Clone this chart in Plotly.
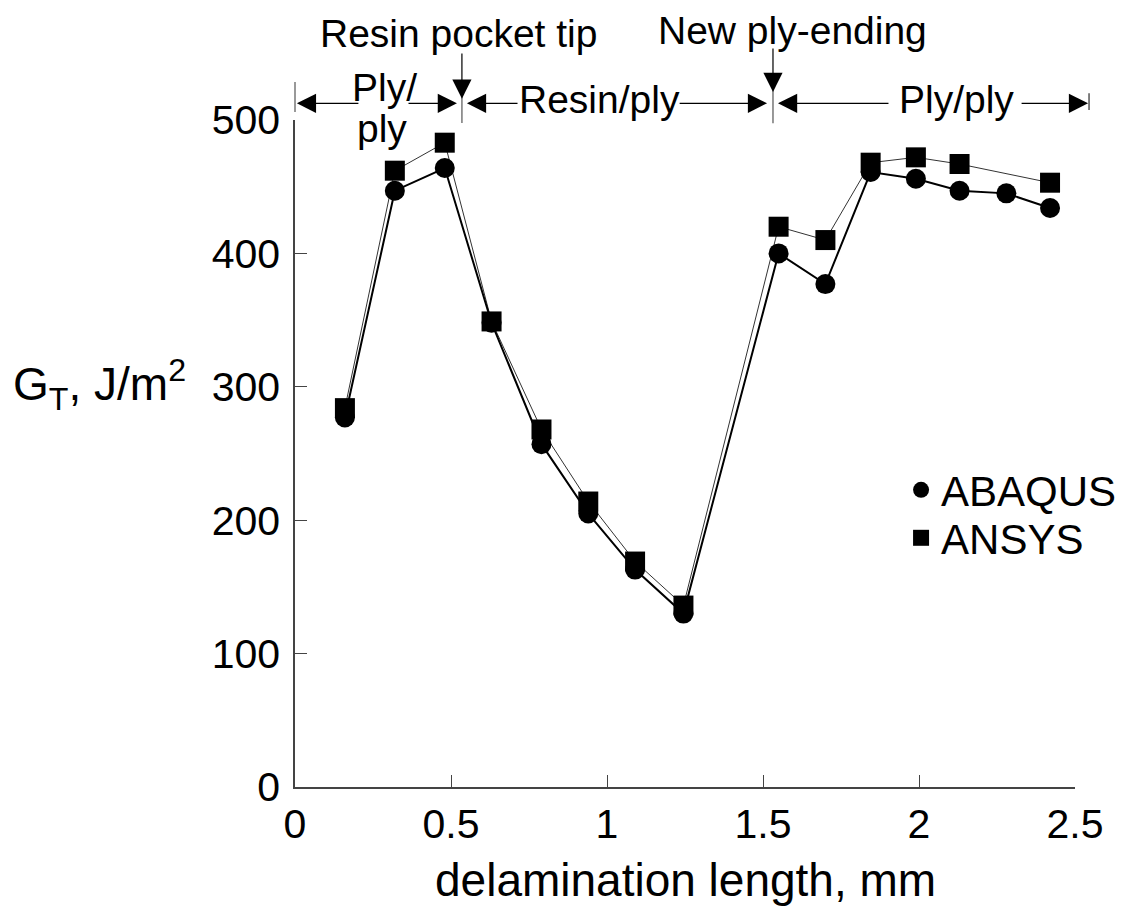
import plotly.graph_objects as go

# ---- data ----
x_abaqus = [0.16, 0.32, 0.48, 0.63, 0.79, 0.94, 1.09, 1.245, 1.55, 1.70, 1.845, 1.99, 2.13, 2.28, 2.42]
y_abaqus = [277, 447, 464, 348, 257, 205, 163, 130, 400, 377, 461, 456, 447, 445, 434]
x_ansys = [0.16, 0.32, 0.48, 0.63, 0.79, 0.94, 1.09, 1.245, 1.55, 1.70, 1.845, 1.99, 2.13, 2.42]
y_ansys = [284, 462, 483, 349, 268, 214, 169, 136, 420, 410, 468, 472, 467, 453]

x_ticks = [0, 0.5, 1, 1.5, 2, 2.5]
x_ticktext = ["0", "0.5", "1", "1.5", "2", "2.5"]
y_ticks = [0, 100, 200, 300, 400, 500]
y_ticktext = ["0", "100", "200", "300", "400", "500"]

# region boundaries along the delamination (mm)
region_start = 0.0
resin_tip_x = 0.535
new_ply_x = 1.532
region_end = 2.545
region_labels = ["Ply/", "ply", "Resin/ply", "Ply/ply"]
marker_labels = ["Resin pocket tip", "New ply-ending"]

X_MAX = 2.5
PLOT_W, PLOT_H = 780, 667   # plot area size in px


def px(mm):
    """mm -> paper x"""
    return mm / X_MAX


def py(v):
    """G value (J/m^2, may exceed 500) -> paper y"""
    return v / 500.0


FONT = "Liberation Sans, Arial, sans-serif"

fig = go.Figure()

fig.add_trace(go.Scatter(x=x_ansys, y=y_ansys, mode="lines",
                         line=dict(color="#333333", width=1), showlegend=False, hoverinfo="skip"))
fig.add_trace(go.Scatter(x=x_abaqus, y=y_abaqus, mode="lines",
                         line=dict(color="black", width=2), showlegend=False, hoverinfo="skip"))
fig.add_trace(go.Scatter(x=x_abaqus, y=y_abaqus, mode="markers", name="ABAQUS",
                         marker=dict(symbol="circle", size=20, color="black"), legend="legend"))
fig.add_trace(go.Scatter(x=x_ansys, y=y_ansys, mode="markers", name="ANSYS",
                         marker=dict(symbol="square", size=20, color="black"), legend="legend2"))

ARROW = dict(text="", showarrow=True, arrowhead=2, arrowsize=3.2, arrowwidth=1.2,
             arrowcolor="black", standoff=0, startstandoff=0)

annotations = []
arr_v = 512.5  # level of the horizontal region arrows (J/m^2 scale, above the axis)
arrows = [  # (head mm, tail mm)
    (region_start + 0.006, 0.208),
    (resin_tip_x - 0.016, 0.359),
    (resin_tip_x + 0.016, 0.718),
    (new_ply_x - 0.019, 1.228),
    (new_ply_x + 0.016, 1.907),
    (region_end - 0.003, 2.324),
]
for hx, tx in arrows:
    annotations.append(dict(x=px(hx), y=py(arr_v), xref="paper", yref="paper",
                            ax=(tx - hx) / X_MAX * PLOT_W, ay=0, axref="pixel", ayref="pixel", **ARROW))
# vertical arrows
for vx, tail_v, head_v in [(resin_tip_x, 551, 516), (new_ply_x, 554.7, 521)]:
    annotations.append(dict(x=px(vx), y=py(head_v), xref="paper", yref="paper",
                            ax=0, ay=-(tail_v - head_v) / 500 * PLOT_H, axref="pixel", ayref="pixel",
                            **ARROW))

label_pos = [  # (x mm, level)
    (0.288, 524), (0.279, 494), (0.976, 515), (2.12, 515),
]
for t, (lx, lv) in zip(region_labels, label_pos):
    annotations.append(dict(x=px(lx), y=py(lv), xref="paper", yref="paper", text=t, showarrow=False,
                            xanchor="center", yanchor="middle",
                            font=dict(family=FONT, size=39, color="black")))
for t, (lx, lv) in zip(marker_labels, [(0.523, 565), (1.596, 567)]):
    annotations.append(dict(x=px(lx), y=py(lv), xref="paper", yref="paper", text=t, showarrow=False,
                            xanchor="center", yanchor="middle",
                            font=dict(family=FONT, size=39, color="black")))

annotations.append(dict(x=-0.364, y=0.604, xref="paper", yref="paper", xanchor="left", yanchor="middle",
                        text="G<sub>T</sub>, J/m<sup>2</sup>", showarrow=False,
                        font=dict(family=FONT, size=46, color="black")))
annotations.append(dict(x=0.5, y=-0.139, xref="paper", yref="paper", xanchor="center", yanchor="middle",
                        text="delamination length, mm", showarrow=False,
                        font=dict(family=FONT, size=46, color="black")))

shapes = []
for sx, v0, v1, col in [(resin_tip_x, 497.8, 524, "#777777"), (new_ply_x, 497.5, 524, "#777777"),
                        (region_start, 506, 528.5, "#777777"), (region_end, 507.5, 520, "#555555")]:
    shapes.append(dict(type="line", xref="paper", yref="paper", x0=px(sx), x1=px(sx), y0=py(v0), y1=py(v1),
                       line=dict(color=col, width=1.5)))

fig.update_layout(
    width=1138, height=899,
    margin=dict(l=287, r=71, t=112, b=120),
    plot_bgcolor="white", paper_bgcolor="white",
    annotations=annotations, shapes=shapes,
    legend=dict(x=0.777, y=(787 - 490) / 667, xanchor="left", yanchor="middle",
                font=dict(family=FONT, size=42, color="black"), bgcolor="rgba(0,0,0,0)"),
    legend2=dict(x=0.777, y=(787 - 538) / 667, xanchor="left", yanchor="middle",
                 font=dict(family=FONT, size=42, color="black"), bgcolor="rgba(0,0,0,0)"),
)
fig.update_xaxes(range=[0, X_MAX], tickvals=x_ticks, ticktext=x_ticktext, ticks="inside", ticklen=12,
                 tickcolor="#444444", tickwidth=1.2, showline=True, linecolor="#444444", linewidth=1.5,
                 showgrid=False, zeroline=False, tickfont=dict(family=FONT, size=41, color="black"))
fig.update_yaxes(range=[0, 500], tickvals=y_ticks, ticktext=y_ticktext, ticks="inside", ticklen=12,
                 tickcolor="#444444", tickwidth=1.2, showline=True, linecolor="#444444", linewidth=1.5,
                 showgrid=False, zeroline=False, ticklabelstandoff=5,
                 tickfont=dict(family=FONT, size=41, color="black"))

fig.write_html("out.html")
